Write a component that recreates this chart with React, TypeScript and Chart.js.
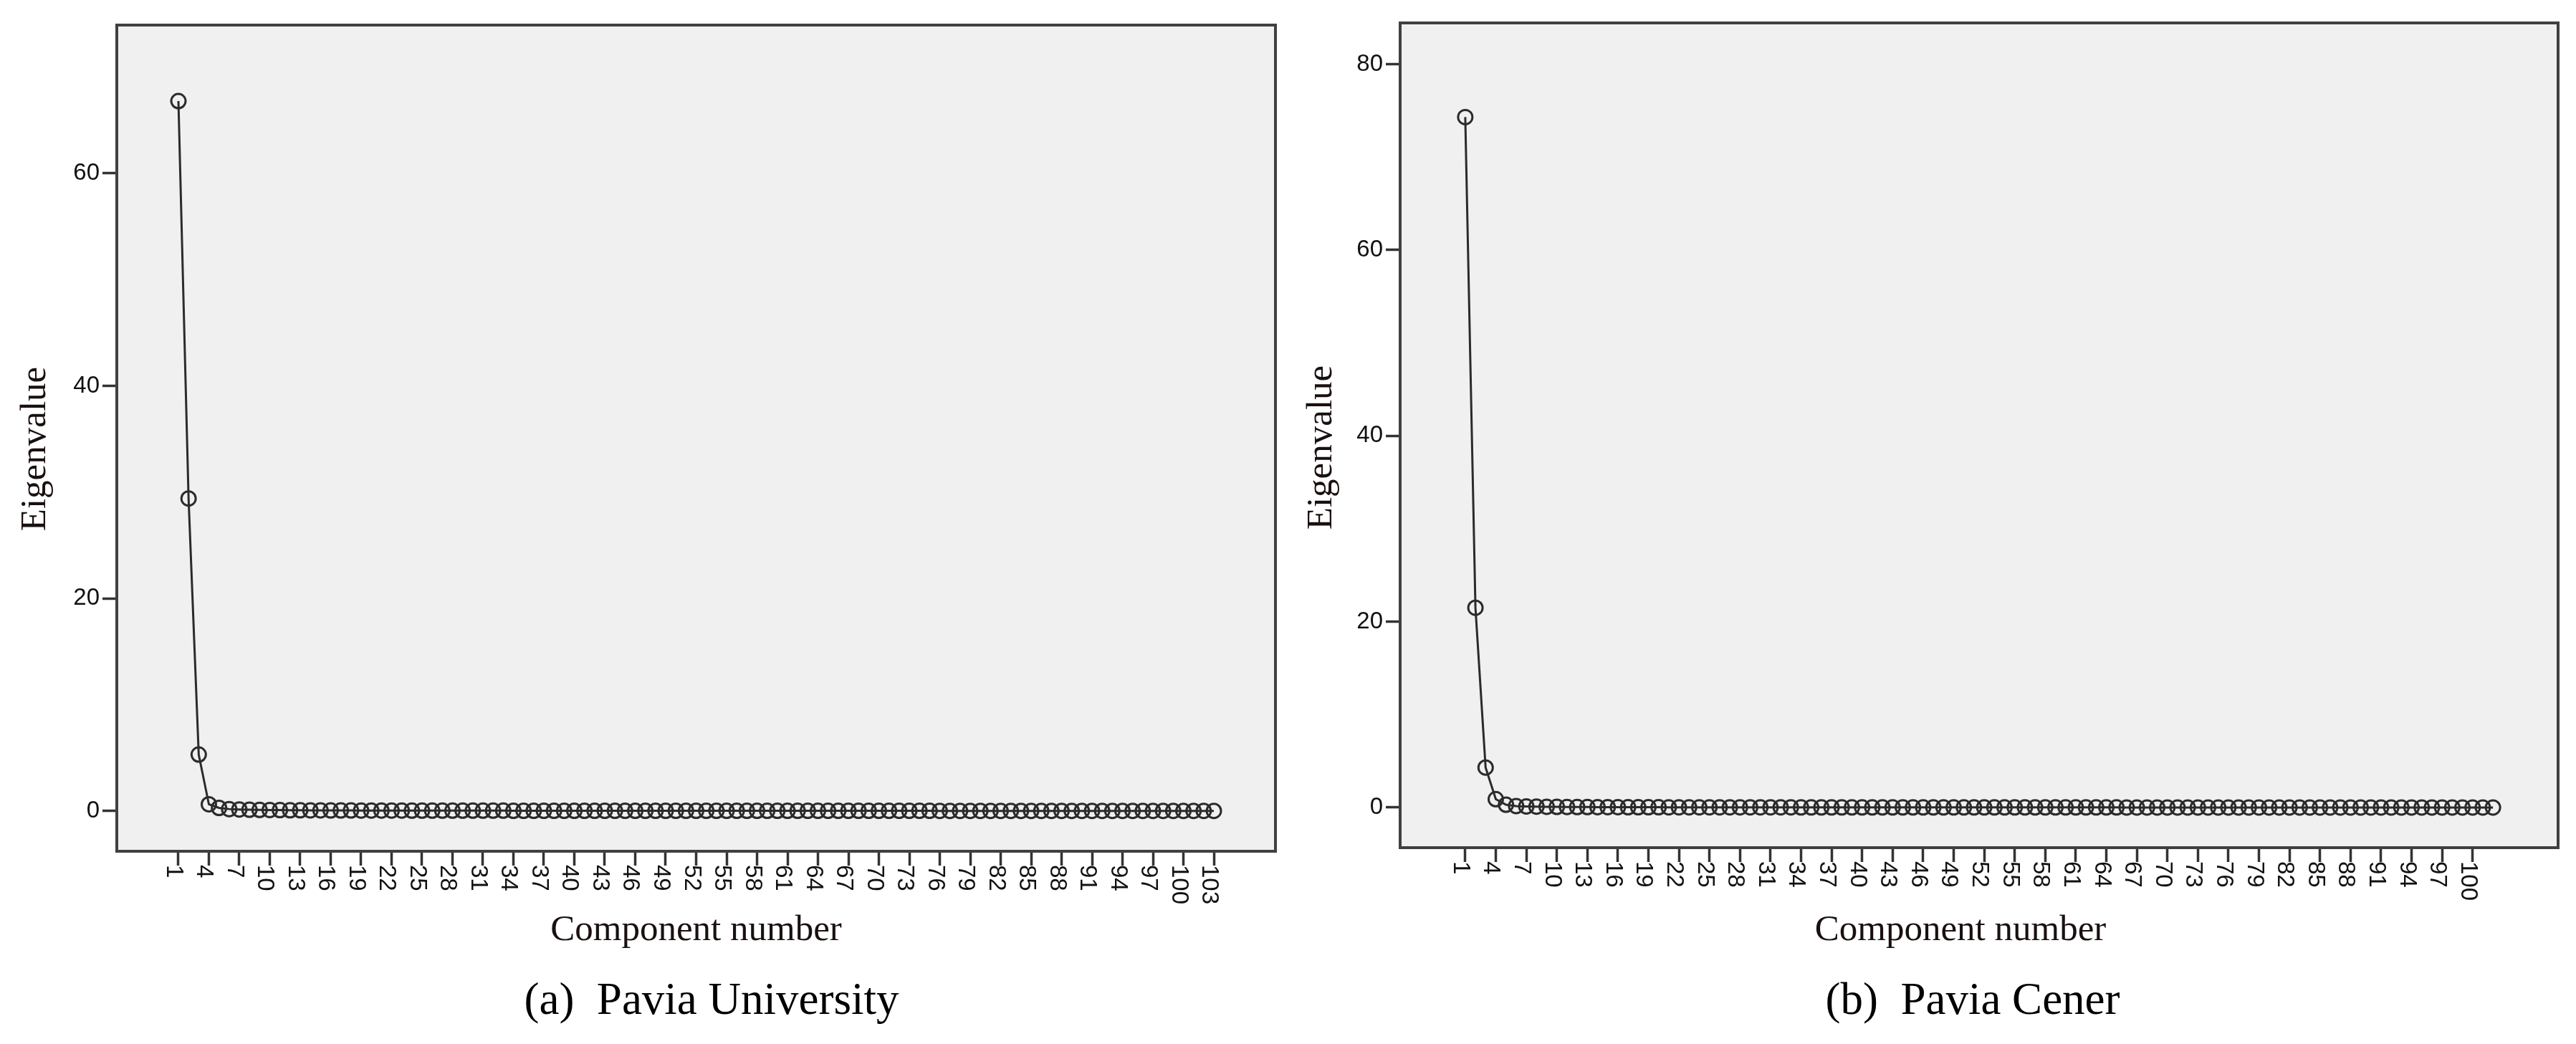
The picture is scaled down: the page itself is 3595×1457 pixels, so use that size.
import React, { useEffect, useRef } from "react";
import { Chart, registerables } from "chart.js";

Chart.register(...registerables);

// ---------- data ----------
const componentsA = [
  1, 2, 3, 4, 5, 6, 7, 8, 9, 10, 11, 12, 13, 14, 15, 16, 17, 18, 19, 20,
  21, 22, 23, 24, 25, 26, 27, 28, 29, 30, 31, 32, 33, 34, 35, 36, 37, 38, 39, 40,
  41, 42, 43, 44, 45, 46, 47, 48, 49, 50, 51, 52, 53, 54, 55, 56, 57, 58, 59, 60,
  61, 62, 63, 64, 65, 66, 67, 68, 69, 70, 71, 72, 73, 74, 75, 76, 77, 78, 79, 80,
  81, 82, 83, 84, 85, 86, 87, 88, 89, 90, 91, 92, 93, 94, 95, 96, 97, 98, 99, 100,
  101, 102, 103,
];
const eigenvaluesA = [
  66.8, 29.4, 5.3, 0.62, 0.28, 0.17, 0.13, 0.11, 0.09, 0.08,
  0.07, 0.06, 0.06, 0.05, 0.05, 0.04, 0.04, 0.04, 0.03, 0.03,
  0.03, 0.03, 0.03, 0.02, 0.02, 0.02, 0.02, 0.02, 0.02, 0.02,
  0.02, 0.02, 0.02, 0.01, 0.01, 0.01, 0.01, 0.01, 0.01, 0.01,
  0.01, 0.01, 0.01, 0.01, 0.01, 0.01, 0.01, 0.01, 0.01, 0.01,
  0.01, 0.01, 0.01, 0.01, 0.01, 0.01, 0.01, 0.01, 0.01, 0.01,
  0.01, 0.01, 0.01, 0.01, 0.01, 0.01, 0.01, 0.01, 0.01, 0.01,
  0.01, 0.01, 0.01, 0.01, 0.01, 0.0, 0.0, 0.0, 0.0, 0.0,
  0.0, 0.0, 0.0, 0.0, 0.0, 0.0, 0.0, 0.0, 0.0, 0.0,
  0.0, 0.0, 0.0, 0.0, 0.0, 0.0, 0.0, 0.0, 0.0, 0.0,
  0.0, 0.0, 0.0,
];
const xTickLabelsA = [
  1, 4, 7, 10, 13, 16, 19, 22, 25, 28, 31, 34, 37, 40, 43, 46, 49, 52, 55, 58,
  61, 64, 67, 70, 73, 76, 79, 82, 85, 88, 91, 94, 97, 100, 103,
];
const yTicksA = [0, 20, 40, 60];

const componentsB = [
  1, 2, 3, 4, 5, 6, 7, 8, 9, 10, 11, 12, 13, 14, 15, 16, 17, 18, 19, 20,
  21, 22, 23, 24, 25, 26, 27, 28, 29, 30, 31, 32, 33, 34, 35, 36, 37, 38, 39, 40,
  41, 42, 43, 44, 45, 46, 47, 48, 49, 50, 51, 52, 53, 54, 55, 56, 57, 58, 59, 60,
  61, 62, 63, 64, 65, 66, 67, 68, 69, 70, 71, 72, 73, 74, 75, 76, 77, 78, 79, 80,
  81, 82, 83, 84, 85, 86, 87, 88, 89, 90, 91, 92, 93, 94, 95, 96, 97, 98, 99, 100,
  101, 102,
];
const eigenvaluesB = [
  74.3, 21.5, 4.3, 0.9, 0.3, 0.16, 0.12, 0.1, 0.08, 0.07,
  0.06, 0.05, 0.05, 0.04, 0.04, 0.04, 0.03, 0.03, 0.03, 0.03,
  0.02, 0.02, 0.02, 0.02, 0.02, 0.02, 0.02, 0.02, 0.02, 0.02,
  0.02, 0.02, 0.02, 0.01, 0.01, 0.01, 0.01, 0.01, 0.01, 0.01,
  0.01, 0.01, 0.01, 0.01, 0.01, 0.01, 0.01, 0.01, 0.01, 0.01,
  0.01, 0.01, 0.01, 0.01, 0.01, 0.01, 0.01, 0.01, 0.01, 0.01,
  0.01, 0.01, 0.01, 0.01, 0.01, 0.0, 0.0, 0.0, 0.0, 0.0,
  0.0, 0.0, 0.0, 0.0, 0.0, 0.0, 0.0, 0.0, 0.0, 0.0,
  0.0, 0.0, 0.0, 0.0, 0.0, 0.0, 0.0, 0.0, 0.0, 0.0,
  0.0, 0.0, 0.0, 0.0, 0.0, 0.0, 0.0, 0.0, 0.0, 0.0,
  0.0, 0.0,
];
const xTickLabelsB = [
  1, 4, 7, 10, 13, 16, 19, 22, 25, 28, 31, 34, 37, 40, 43, 46, 49, 52, 55, 58,
  61, 64, 67, 70, 73, 76, 79, 82, 85, 88, 91, 94, 97, 100,
];
const yTicksB = [0, 20, 40, 60, 80];

const yAxisTitle = "Eigenvalue";
const xAxisTitle = "Component number";
const captionA = "(a)  Pavia University";
const captionB = "(b)  Pavia Cener";

// ---------- styles ----------
const INK = "#2b2b2b";
const FRAME = "#404040";
const PLOT_BG = "#f0f0f0";
const TITLE_COLOR = "#1a1010";
const SANS = "'Liberation Sans', Arial, sans-serif";
const SERIF = "'Liberation Serif', 'Times New Roman', serif";

type PlotProps = {
  components: number[];
  values: number[];
  xTickLabels: number[];
  yTicks: number[];
  xMin: number;
  xMax: number;
  yMin: number;
  yMax: number;
  padTop: number;
  padRight: number;
  xAxisHeight: number;
  left: number;
  xTitleShift: number;
  yTitleShift: number;
  yTitleGap: number;
};

const CANVAS_W = 1800;
const CANVAS_H = 1331;

function ScreePlot(p: PlotProps) {
  const ref = useRef<HTMLCanvasElement | null>(null);

  useEffect(() => {
    const canvas = ref.current;
    if (!canvas) return;

    const framePlugin = {
      id: "frameBg",
      beforeDraw(chart: any) {
        const { ctx, chartArea: a } = chart;
        ctx.save();
        ctx.fillStyle = PLOT_BG;
        ctx.fillRect(a.left, a.top, a.right - a.left, a.bottom - a.top);
        ctx.restore();
      },
      afterDraw(chart: any) {
        const { ctx, chartArea: a } = chart;
        ctx.save();
        ctx.strokeStyle = FRAME;
        ctx.lineWidth = 4;
        ctx.strokeRect(a.left, a.top, a.right - a.left, a.bottom - a.top);
        ctx.restore();
      },
    };

    const labelPlugin = {
      id: "labelsAndTitles",
      afterDraw(chart: any) {
        const xs = chart.scales.x;
        const { ctx, chartArea: a } = chart;
        ctx.save();
        // rotated x tick labels (reading top to bottom)
        ctx.font = `33px ${SANS}`;
        ctx.fillStyle = "#111111";
        ctx.textAlign = "left";
        ctx.textBaseline = "alphabetic";
        xs.ticks.forEach((t: any, i: number) => {
          const px = xs.getPixelForValue(t.value);
          ctx.save();
          ctx.translate(px, a.bottom + 19);
          ctx.rotate(Math.PI / 2);
          ctx.fillText(String(p.xTickLabels[i]), 0, 16);
          ctx.restore();
        });
        // axis titles
        ctx.font = `51px ${SERIF}`;
        ctx.fillStyle = TITLE_COLOR;
        ctx.textAlign = "center";
        ctx.textBaseline = "alphabetic";
        ctx.fillText(xAxisTitle, (a.left + a.right) / 2 + p.xTitleShift, 1312);
        ctx.save();
        ctx.translate(a.left - p.yTitleGap, (a.top + a.bottom) / 2 + p.yTitleShift);
        ctx.rotate(-Math.PI / 2);
        ctx.fillText(yAxisTitle, 0, 0);
        ctx.restore();
        ctx.restore();
      },
    };

    const chart = new Chart(canvas, {
      type: "line",
      data: {
        datasets: [
          {
            data: p.components.map((c, i) => ({ x: c, y: p.values[i] })),
            borderColor: INK,
            borderWidth: 3,
            pointRadius: 10,
            pointBorderWidth: 3,
            pointBorderColor: INK,
            pointBackgroundColor: "rgba(0,0,0,0)",
            tension: 0,
            fill: false,
          },
        ],
      },
      options: {
        responsive: false,
        maintainAspectRatio: false,
        animation: false,
        devicePixelRatio: 1,
        events: [],
        layout: {
          padding: { left: 13, top: p.padTop, right: p.padRight, bottom: 0 },
        },
        plugins: {
          legend: { display: false },
          tooltip: { enabled: false },
        },
        scales: {
          x: {
            type: "linear",
            min: p.xMin,
            max: p.xMax,
            afterBuildTicks: (s: any) => {
              s.ticks = p.xTickLabels.map((v) => ({ value: v }));
            },
            afterFit: (s: any) => {
              s.height = p.xAxisHeight;
            },
            ticks: { display: false },
            grid: {
              drawOnChartArea: false,
              drawTicks: true,
              tickLength: 20,
              tickWidth: 3.5,
              tickColor: "#333333",
            },
            border: { display: false },
            title: { display: false },
          },
          y: {
            type: "linear",
            min: p.yMin,
            max: p.yMax,
            afterBuildTicks: (s: any) => {
              s.ticks = p.yTicks.map((v) => ({ value: v }));
            },
            afterFit: (s: any) => {
              s.width = 150;
            },
            ticks: {
              color: "#111111",
              font: { family: SANS, size: 33 },
              padding: 4,
            },
            grid: {
              drawOnChartArea: false,
              drawTicks: true,
              tickLength: 20,
              tickWidth: 3.5,
              tickColor: "#333333",
            },
            border: { display: false },
            title: { display: false },
          },
        },
      } as any,
      plugins: [framePlugin, labelPlugin],
    });

    return () => chart.destroy();
  }, []);

  return (
    <canvas
      ref={ref}
      width={CANVAS_W}
      height={CANVAS_H}
      style={{
        position: "absolute",
        left: p.left,
        top: 0,
        width: CANVAS_W,
        height: CANVAS_H,
        display: "block",
      }}
    />
  );
}

function Caption({ text, center }: { text: string; center: number }) {
  return (
    <div
      style={{
        position: "absolute",
        left: center - 600,
        width: 1200,
        top: 1363,
        textAlign: "center",
        fontFamily: SERIF,
        fontSize: 63,
        lineHeight: "63px",
        whiteSpace: "pre",
        color: "#000000",
      }}
    >
      {text}
    </div>
  );
}

export default function App() {
  return (
    <div
      style={{
        position: "absolute",
        left: 0,
        top: 0,
        width: 3595,
        height: 1457,
        background: "#ffffff",
        overflow: "hidden",
      }}
    >
      <ScreePlot
        components={componentsA}
        values={eigenvaluesA}
        xTickLabels={xTickLabelsA}
        yTicks={yTicksA}
        xMin={-5.07}
        xMax={109.07}
        yMin={-3.8}
        yMax={73.95}
        padTop={35}
        padRight={20}
        xAxisHeight={143}
        left={0}
        xTitleShift={0}
        yTitleShift={15}
        yTitleGap={100}
      />
      <ScreePlot
        components={componentsB}
        values={eigenvaluesB}
        xTickLabels={xTickLabelsB}
        yTicks={yTicksB}
        xMin={-5.4}
        xMax={108.4}
        yMin={-4.32}
        yMax={84.43}
        padTop={32}
        padRight={21}
        xAxisHeight={148}
        left={1791}
        xTitleShift={-26}
        yTitleShift={17}
        yTitleGap={96}
      />
      <Caption text={captionA} center={993} />
      <Caption text={captionB} center={2753} />
    </div>
  );
}
